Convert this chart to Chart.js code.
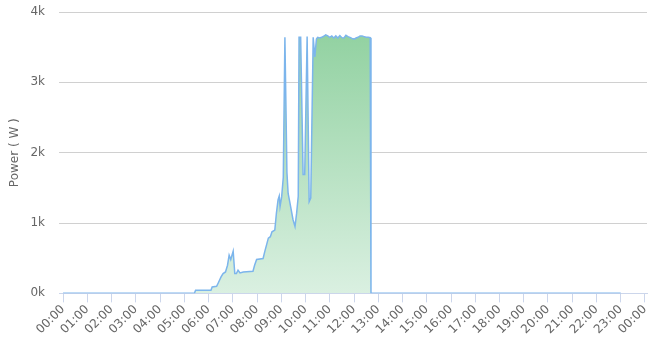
<!DOCTYPE html>
<html lang="en">
<head>
  <meta charset="UTF-8">
  <title>Power</title>
  <script src="https://cdn.jsdelivr.net/npm/chart.js"></script>
  <style>
    html, body { margin: 0; padding: 0; background: #fff; }
    .wrap { width: 651px; height: 341px; }
  </style>
</head>
<body>
  <div class="wrap"><canvas id="graph" width="651" height="341"></canvas></div>

  <script>
    // readings (time of day, watts)
    const times = [
      '00:00', '05:25', '05:28', '06:06', '06:09', '06:20', '06:24', '06:31', '06:36', '06:42',
      '06:47', '06:51', '06:55', '07:01', '07:05', '07:09', '07:13', '07:18', '07:26', '07:50',
      '07:54', '07:59', '08:15', '08:19', '08:28', '08:33', '08:37', '08:44', '08:48', '08:52',
      '08:55', '08:57', '09:01', '09:05', '09:09', '09:14', '09:17', '09:21', '09:29', '09:34',
      '09:38', '09:42', '09:44', '09:48', '09:54', '09:58', '10:04', '10:09', '10:13', '10:19',
      '10:23', '10:27', '10:30', '10:35', '10:40', '10:45', '10:50', '10:55', '11:00', '11:05',
      '11:10', '11:15', '11:20', '11:25', '11:30', '11:35', '11:40', '11:45', '11:50', '11:55',
      '12:00', '12:05', '12:10', '12:15', '12:20', '12:25', '12:30', '12:35', '12:40', '12:42',
      '23:00'
    ];
    const power = [
      0, 0, 45, 45, 90, 100, 147, 233, 281, 304,
      400, 543, 481, 600, 281, 281, 329, 290, 304, 314,
      400, 481, 496, 590, 785, 805, 875, 900, 1140, 1330,
      1385, 1235, 1375, 1650, 3640, 1720, 1420, 1300, 1050, 950,
      1140, 1380, 3640, 3640, 1690, 1690, 3650, 1305, 1355, 3640,
      3360, 3615, 3640, 3630, 3640, 3655, 3675, 3660, 3640, 3660,
      3630, 3660, 3630, 3665, 3635, 3630, 3670, 3650, 3640, 3625,
      3615, 3630, 3640, 3660, 3660, 3650, 3640, 3640, 3635, 0,
      0
    ];
    const hourLabels = [
      '00:00', '01:00', '02:00', '03:00', '04:00', '05:00', '06:00', '07:00', '08:00',
      '09:00', '10:00', '11:00', '12:00', '13:00', '14:00', '15:00', '16:00', '17:00',
      '18:00', '19:00', '20:00', '21:00', '22:00', '23:00', '00:00'
    ];
    const yTicks = [0, 1000, 2000, 3000, 4000];

    const toMin = t => { const [h, m] = t.split(':').map(Number); return h * 60 + m; };
    const points = times.map((t, i) => ({ x: toMin(t), y: power[i] }));

    const FONT = { family: 'DejaVu Sans', size: 12 };

    function fillGradient(c) {
      const area = c.chart.chartArea;
      if (!area) return '#b5e2c0';
      const g = c.chart.ctx.createLinearGradient(0, area.top, 0, area.bottom);
      g.addColorStop(0, '#8ccf9c');
      g.addColorStop(1, '#daf0e1');
      return g;
    }

    new Chart(document.getElementById('graph'), {
      type: 'line',
      data: {
        datasets: [{
          data: points,
          borderColor: '#7cb5ec',
          borderWidth: 1.5,
          backgroundColor: fillGradient,
          fill: 'origin',
          tension: 0,
          pointRadius: 0
        }]
      },
      options: {
        responsive: false,
        animation: false,
        layout: { padding: { top: 12, right: 4, left: 0, bottom: 4 } },
        plugins: { legend: { display: false }, tooltip: { enabled: false } },
        scales: {
          x: {
            type: 'linear',
            min: -10,
            max: 1445,
            afterBuildTicks: s => { s.ticks = hourLabels.map((_, i) => ({ value: i * 60 })); },
            afterFit: s => { s.paddingRight = 0; },
            ticks: {
              autoSkip: false,
              minRotation: 45,
              maxRotation: 45,
              color: '#666',
              font: FONT,
              padding: 0,
              callback: (v, i) => hourLabels[i]
            },
            grid: { drawOnChartArea: false, color: '#ccd6eb', tickLength: 9 },
            border: { color: '#ccd6eb' }
          },
          y: {
            min: 0,
            max: 4000,
            afterBuildTicks: s => { s.ticks = yTicks.map(v => ({ value: v })); },
            afterFit: s => { s.width = 59; },
            ticks: {
              color: '#666',
              font: FONT,
              padding: 0,
              callback: v => (v / 1000) + 'k'
            },
            grid: { color: '#d0d0d0', drawTicks: true, tickLength: 14, tickColor: 'rgba(0,0,0,0)' },
            border: { display: false },
            title: {
              display: true,
              text: 'Power ( W )',
              color: '#666',
              font: FONT,
              padding: { top: 8, bottom: 0 }
            }
          }
        }
      }
    });
  </script>
</body>
</html>
